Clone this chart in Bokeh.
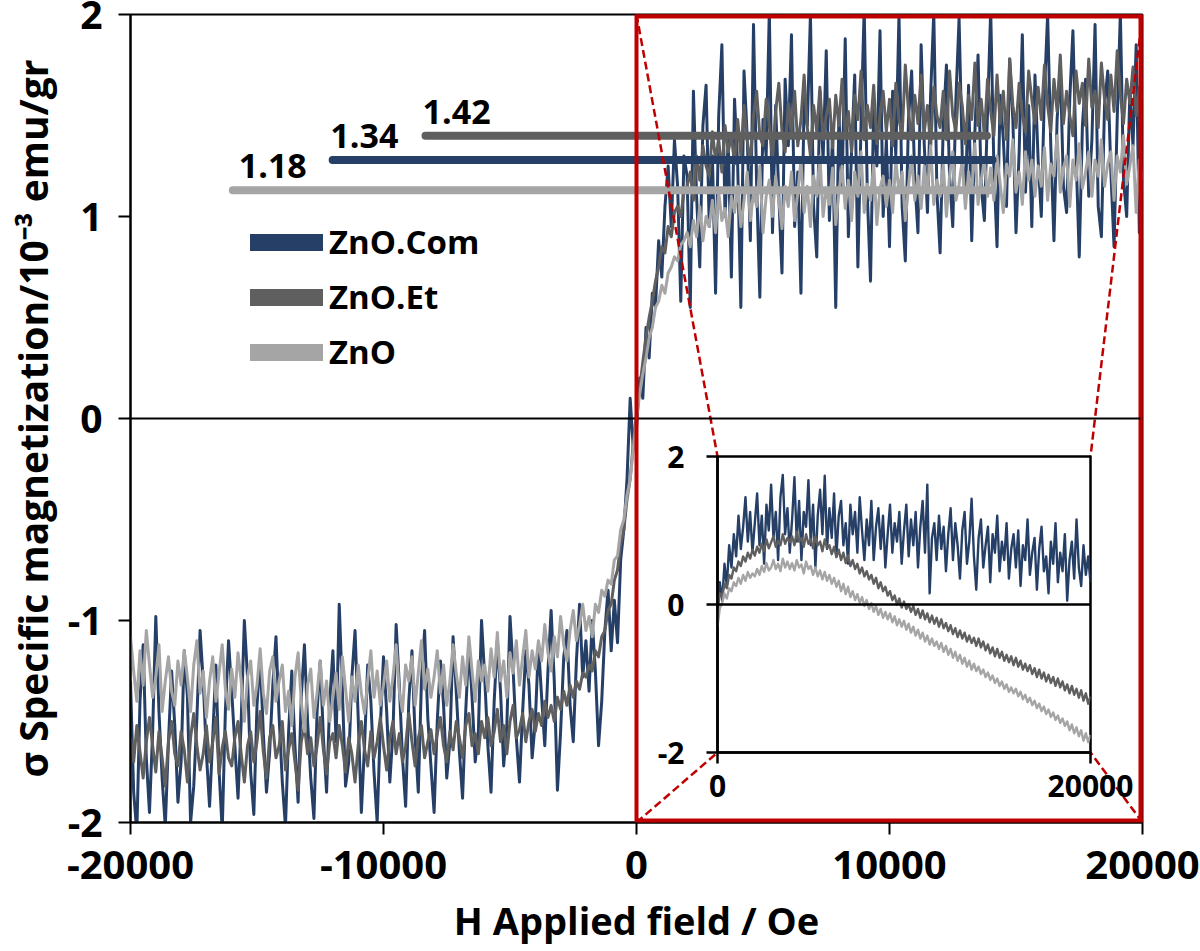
from bokeh.plotting import figure
from bokeh.models import Range1d, FixedTicker, Span, BoxAnnotation, Legend, LegendItem
from bokeh.embed import file_html
from bokeh.resources import INLINE
from bokeh.core.properties import value

# ---------------- data ----------------
H_MAIN = list(range(-20000, 20001, 125))          # applied field sweep, Oe

ZNO_COM = [
    -1.30, -1.85, -2.05, -1.40, -1.12, -1.68, -1.95, -1.55, -0.98, -1.45, -1.78, -2.02, -1.60, -1.25, -1.52, -1.90,
    -1.70, -1.15, -1.38, -2.00, -1.82, -1.48, -1.05, -1.30, -1.66, -1.92, -1.58, -1.22, -1.74, -2.04, -1.45, -1.10,
    -1.35, -1.62, -1.88, -1.50, -1.00, -1.28, -1.75, -1.96, -1.42, -1.18, -1.56, -1.85, -1.65, -1.32, -1.08, -1.48,
    -1.80, -2.02, -1.55, -1.25, -1.62, -1.90, -1.38, -1.12, -1.50, -1.78, -1.98, -1.45, -1.20, -1.58, -1.85, -1.40,
    -1.15, -1.60, -0.92, -1.35, -1.82, -1.70, -1.28, -1.05, -1.48, -1.95, -1.62, -1.22, -1.40, -1.75, -2.00, -1.52,
    -1.18, -1.45, -1.80, -1.55, -1.02, -1.32, -1.68, -1.92, -1.40, -1.15, -1.58, -1.85, -1.30, -1.05, -1.48, -1.72,
    -1.95, -1.50, -1.20, -1.42, -1.78, -1.60, -1.08, -1.35, -1.65, -1.88, -1.45, -1.12, -1.38, -1.70, -1.55, -1.00,
    -1.28, -1.62, -1.85, -1.40, -1.10, -1.35, -1.72, -1.52, -0.98, -1.25, -1.58, -1.80, -1.45, -1.15, -1.32, -1.68,
    -1.50, -1.12, -1.38, -1.62, -1.25, -0.95, -1.30, -1.84, -1.55, -1.18, -1.05, -1.42, -1.60, -1.20, -0.92, -1.28,
    -1.10, -1.35, -1.00, -1.25, -1.62, -1.40, -1.05, -0.85, -1.15, -0.90, -1.11, -0.70, -0.55, -0.30, 0.10, -0.15,
    -0.05, 0.20, 0.10, 0.45, 0.30, 0.62, 0.55, 0.88, 0.70, 1.05, 1.25, 0.95, 1.38, 1.15, 0.58, 1.30,
    1.20, 0.55, 1.62, 1.10, 0.75, 1.45, 1.65, 0.95, 1.30, 0.62, 1.50, 1.85, 1.00, 1.38, 0.70, 1.58,
    1.25, 0.55, 1.72, 1.40, 0.88, 1.95, 1.15, 0.60, 1.48, 1.30, 2.02, 0.92, 1.55, 1.10, 0.72, 1.68,
    1.35, 1.90, 0.95, 1.22, 0.62, 1.58, 1.45, 2.00, 1.05, 0.80, 1.62, 1.28, 1.82, 0.98, 1.40, 0.55,
    1.50, 1.15, 1.88, 0.90, 1.32, 1.70, 0.75, 1.45, 2.03, 1.10, 0.68, 1.55, 1.25, 1.92, 1.00, 1.38,
    0.85, 1.62, 1.30, 2.00, 1.05, 0.78, 1.48, 1.72, 1.18, 0.92, 1.85, 1.35, 1.02, 1.60, 2.01, 1.12,
    0.82, 1.45, 1.75, 1.20, 0.95, 1.58, 1.98, 1.30, 1.08, 1.65, 0.88, 1.42, 1.80, 1.15, 0.98, 1.52,
    2.02, 1.25, 0.85, 1.60, 1.38, 1.05, 1.78, 1.48, 0.92, 1.32, 1.90, 1.12, 1.55, 0.95, 1.70, 1.28,
    1.00, 1.62, 2.00, 1.35, 0.88, 1.48, 1.75, 1.15, 1.02, 1.58, 1.92, 1.30, 0.80, 1.45, 1.68, 1.10,
    1.38, 1.95, 1.05, 0.90, 1.55, 1.72, 1.22, 0.85, 1.48, 2.01, 1.18, 1.00, 1.62, 1.35, 1.85, 0.92,
    1.25,
]

ZNO_ET = [
    -1.58, -1.70, -1.52, -1.65, -1.78, -1.60, -1.48, -1.62, -1.75, -1.55, -1.68, -1.82, -1.60, -1.50, -1.66, -1.72,
    -1.55, -1.64, -1.80, -1.58, -1.46, -1.62, -1.74, -1.66, -1.52, -1.70, -1.60, -1.48, -1.76, -1.63, -1.55, -1.68,
    -1.72, -1.58, -1.50, -1.66, -1.80, -1.62, -1.55, -1.70, -1.60, -1.45, -1.65, -1.78, -1.58, -1.52, -1.68, -1.62,
    -1.50, -1.74, -1.64, -1.56, -1.70, -1.84, -1.60, -1.52, -1.66, -1.58, -1.72, -1.62, -1.48, -1.64, -1.76, -1.60,
    -1.56, -1.68, -1.52, -1.62, -1.75, -1.58, -1.66, -1.80, -1.62, -1.50, -1.64, -1.72, -1.55, -1.68, -1.60, -1.48,
    -1.62, -1.74, -1.58, -1.50, -1.66, -1.56, -1.70, -1.62, -1.46, -1.60, -1.72, -1.58, -1.52, -1.68, -1.60, -1.54,
    -1.66, -1.56, -1.48, -1.62, -1.70, -1.55, -1.64, -1.50, -1.58, -1.68, -1.52, -1.46, -1.62, -1.56, -1.66, -1.50,
    -1.58, -1.48, -1.62, -1.55, -1.44, -1.60, -1.52, -1.66, -1.50, -1.42, -1.58, -1.54, -1.46, -1.60, -1.50, -1.44,
    -1.55, -1.46, -1.52, -1.40, -1.48, -1.42, -1.50, -1.38, -1.44, -1.35, -1.42, -1.32, -1.38, -1.30, -1.34, -1.26,
    -1.28, -1.22, -1.25, -1.15, -1.18, -1.08, -1.05, -0.95, -0.92, -0.80, -0.75, -0.62, -0.55, -0.40, -0.30, -0.12,
    0.02, 0.15, 0.28, 0.40, 0.50, 0.58, 0.68, 0.75, 0.85, 0.82, 0.95, 0.90, 1.02, 1.05, 1.00, 1.12,
    1.15, 1.22, 1.08, 1.30, 1.18, 1.35, 1.25, 1.20, 1.42, 1.28, 1.38, 1.22, 1.45, 1.32, 1.40, 1.26,
    1.48, 1.30, 1.55, 1.38, 1.26, 1.50, 1.62, 1.40, 1.35, 1.58, 1.45, 1.28, 1.52, 1.66, 1.42, 1.32,
    1.56, 1.40, 1.62, 1.35, 1.48, 1.70, 1.44, 1.30, 1.55, 1.42, 1.64, 1.38, 1.50, 1.58, 1.34, 1.60,
    1.45, 1.68, 1.40, 1.52, 1.32, 1.60, 1.48, 1.72, 1.38, 1.55, 1.44, 1.65, 1.36, 1.50, 1.62, 1.42,
    1.58, 1.35, 1.66, 1.48, 1.40, 1.75, 1.52, 1.38, 1.60, 1.46, 1.70, 1.42, 1.55, 1.34, 1.64, 1.50,
    1.44, 1.62, 1.38, 1.72, 1.50, 1.42, 1.66, 1.55, 1.36, 1.60, 1.48, 1.76, 1.45, 1.58, 1.40, 1.68,
    1.52, 1.40, 1.70, 1.46, 1.62, 1.38, 1.78, 1.55, 1.44, 1.66, 1.50, 1.42, 1.72, 1.58, 1.46, 1.64,
    1.48, 1.75, 1.55, 1.42, 1.68, 1.52, 1.80, 1.46, 1.62, 1.50, 1.40, 1.72, 1.56, 1.66, 1.45, 1.78,
    1.54, 1.62, 1.44, 1.76, 1.58, 1.48, 1.70, 1.52, 1.82, 1.60, 1.46, 1.68, 1.56, 1.74, 1.50, 1.64,
    1.58,
]

ZNO = [
    -1.08, -1.25, -1.40, -1.15, -1.32, -1.05, -1.22, -1.38, -1.28, -1.12, -1.45, -1.30, -1.18, -1.35, -1.42, -1.20,
    -1.32, -1.15, -1.28, -1.45, -1.22, -1.10, -1.36, -1.25, -1.48, -1.30, -1.18, -1.40, -1.26, -1.12, -1.34, -1.44,
    -1.24, -1.38, -1.16, -1.30, -1.50, -1.28, -1.20, -1.42, -1.32, -1.14, -1.36, -1.46, -1.25, -1.18, -1.40, -1.30,
    -1.22, -1.45, -1.35, -1.52, -1.28, -1.16, -1.40, -1.55, -1.32, -1.24, -1.48, -1.36, -1.20, -1.42, -1.30, -1.50,
    -1.38, -1.26, -1.44, -1.18, -1.34, -1.50, -1.28, -1.40, -1.22, -1.36, -1.46, -1.30, -1.15, -1.38, -1.25, -1.42,
    -1.32, -1.20, -1.40, -1.28, -1.12, -1.35, -1.45, -1.22, -1.30, -1.18, -1.42, -1.26, -1.10, -1.34, -1.24, -1.38,
    -1.28, -1.15, -1.36, -1.22, -1.42, -1.30, -1.12, -1.26, -1.38, -1.18, -1.32, -1.08, -1.25, -1.40, -1.20, -1.30,
    -1.22, -1.35, -1.14, -1.28, -1.06, -1.30, -1.20, -1.38, -1.16, -1.26, -1.10, -1.32, -1.18, -1.05, -1.28, -1.15,
    -1.24, -1.10, -1.20, -1.02, -1.16, -1.25, -1.08, -1.18, -0.98, -1.12, -1.20, -1.05, -0.95, -1.10, -1.02, -0.92,
    -1.05, -0.98, -1.08, -0.92, -0.96, -0.85, -0.88, -0.80, -0.82, -0.70, -0.68, -0.55, -0.50, -0.38, -0.30, -0.15,
    0.00, 0.12, 0.22, 0.30, 0.40, 0.45, 0.55, 0.58, 0.66, 0.62, 0.72, 0.75, 0.80, 0.78, 0.86, 0.88,
    0.92, 0.85, 0.98, 0.90, 1.05, 0.88, 1.00, 0.95, 1.08, 0.92, 1.12, 0.98, 1.04, 0.90, 1.10, 1.02,
    1.15, 0.95, 1.08, 1.22, 0.98, 1.12, 1.05, 1.25, 0.92, 1.10, 1.18, 1.00, 1.20, 1.08, 0.94, 1.15,
    1.05, 1.22, 0.98, 1.12, 1.28, 1.02, 1.15, 0.95, 1.20, 1.10, 1.30, 1.00, 1.14, 1.06, 1.24, 0.96,
    1.12, 1.25, 1.04, 1.18, 0.98, 1.22, 1.10, 1.32, 1.02, 1.16, 1.08, 1.26, 0.96, 1.14, 1.20, 1.05,
    1.18, 1.02, 1.28, 1.12, 1.22, 0.98, 1.15, 1.30, 1.08, 1.20, 1.04, 1.25, 1.12, 1.35, 1.06, 1.18,
    1.10, 1.26, 1.00, 1.20, 1.32, 1.08, 1.16, 1.28, 1.04, 1.22, 1.12, 1.36, 1.06, 1.18, 1.28, 1.10,
    1.24, 1.08, 1.30, 1.16, 1.02, 1.26, 1.20, 1.38, 1.12, 1.22, 1.06, 1.32, 1.18, 1.28, 1.10, 1.25,
    1.15, 1.34, 1.08, 1.26, 1.20, 1.40, 1.12, 1.24, 1.30, 1.05, 1.28, 1.18, 1.36, 1.14, 1.22, 1.32,
    1.10, 1.28, 1.20, 1.38, 1.15, 1.26, 1.32, 1.08, 1.30, 1.22, 1.40, 1.16, 1.25, 1.35, 1.02, 1.28,
    1.18,
]

H_INSET = list(range(0, 20001, 125))

ZNO_COM_INSET = [
    -0.20, 0.30, 0.05, 0.55, 0.25, 0.80, 0.50, 0.95, 0.65, 1.20, 0.75, 1.05, 1.45, 0.85, 1.25, 0.70,
    1.10, 1.50, 0.80, 1.20, 0.55, 1.35, 1.00, 1.62, 0.90, 1.25, 0.60, 1.45, 1.75, 0.95, 1.30, 0.70,
    1.15, 1.72, 0.85, 1.40, 0.60, 1.25, 1.05, 1.68, 0.80, 1.35, 0.50, 1.20, 1.55, 0.95, 1.74, 0.75,
    1.30, 0.90, 1.50, 0.65, 1.20, 1.40, 0.80, 1.10, 0.55, 1.35, 0.95, 1.25, 0.70, 1.45, 1.00, 0.60,
    1.15, 0.80, 1.40, 0.60, 1.05, 1.30, 0.75, 1.20, 0.50, 0.95, 1.35, 0.70, 1.10, 0.85, 1.25, 0.55,
    1.00, 1.35, 0.65, 1.15, 0.80, 1.25, 0.50, 1.05, 1.40, 0.70, 1.62, 0.15, 0.90, 1.10, 0.60, 1.20,
    0.75, 1.05, 0.45, 0.95, 1.30, 0.60, 1.10, 0.80, 0.35, 1.00, 1.25, 0.55, 0.85, 1.43, 0.65, 0.20,
    0.90, 1.15, 0.50, 0.80, 1.05, 0.30, 0.95, 0.70, 1.20, 0.45, 0.85, 0.60, 1.10, 0.35, 0.75, 0.95,
    0.50, 1.00, 0.25, 0.80, 0.60, 1.15, 0.40, 0.70, 0.90, 0.20, 0.75, 1.05, 0.45, 0.65, 0.15, 0.85,
    0.55, 1.10, 0.30, 0.70, 0.45, 0.95, 0.05, 0.60, 0.85, 0.35, 1.15, 0.50, 0.25, 0.80, 0.40, 0.65,
    0.30,
]

ZNO_ET_INSET = [
    0.00, 0.15, 0.10, 0.28, 0.22, 0.40, 0.35, 0.50, 0.45, 0.58, 0.52, 0.65, 0.58, 0.70, 0.62, 0.74,
    0.66, 0.78, 0.70, 0.82, 0.72, 0.88, 0.76, 0.84, 0.92, 0.78, 0.86, 0.80, 0.95, 0.82, 0.90, 0.84,
    0.92, 0.80, 0.98, 0.85, 0.90, 0.78, 0.95, 0.82, 0.88, 0.76, 0.92, 0.80, 0.85, 0.72, 0.88, 0.76,
    0.80, 0.68, 0.78, 0.64, 0.74, 0.60, 0.70, 0.56, 0.66, 0.52, 0.60, 0.48, 0.55, 0.42, 0.50, 0.38,
    0.45, 0.34, 0.40, 0.28, 0.36, 0.22, 0.30, 0.18, 0.24, 0.12, 0.18, 0.06, 0.12, 0.00, 0.08, -0.04,
    0.04, -0.06, 0.00, -0.10, -0.02, -0.14, -0.06, -0.18, -0.08, -0.20, -0.12, -0.24, -0.15, -0.26, -0.18, -0.30,
    -0.20, -0.32, -0.25, -0.36, -0.28, -0.40, -0.32, -0.44, -0.35, -0.46, -0.38, -0.50, -0.42, -0.52, -0.45, -0.56,
    -0.46, -0.58, -0.50, -0.62, -0.54, -0.66, -0.58, -0.70, -0.60, -0.72, -0.64, -0.76, -0.68, -0.78, -0.70, -0.82,
    -0.72, -0.84, -0.76, -0.88, -0.80, -0.90, -0.82, -0.94, -0.86, -0.98, -0.88, -1.00, -0.92, -1.04, -0.95, -1.06,
    -0.98, -1.10, -1.00, -1.12, -1.04, -1.16, -1.08, -1.20, -1.10, -1.22, -1.14, -1.26, -1.16, -1.30, -1.20, -1.34,
    -1.24,
]

ZNO_INSET = [
    -0.30, -0.05, 0.02, 0.15, 0.08, 0.22, 0.18, 0.30, 0.25, 0.36, 0.28, 0.40, 0.32, 0.44, 0.36, 0.42,
    0.38, 0.48, 0.40, 0.52, 0.44, 0.56, 0.46, 0.50, 0.60, 0.48, 0.55, 0.45, 0.62, 0.50, 0.58, 0.48,
    0.56, 0.46, 0.60, 0.50, 0.54, 0.42, 0.58, 0.48, 0.52, 0.40, 0.50, 0.38, 0.46, 0.34, 0.44, 0.32,
    0.40, 0.28, 0.36, 0.24, 0.32, 0.18, 0.28, 0.14, 0.24, 0.10, 0.18, 0.06, 0.14, 0.02, 0.10, -0.02,
    0.06, -0.06, 0.02, -0.10, -0.02, -0.14, -0.06, -0.18, -0.10, -0.20, -0.12, -0.24, -0.16, -0.28, -0.20, -0.30,
    -0.22, -0.34, -0.26, -0.38, -0.30, -0.42, -0.34, -0.46, -0.38, -0.50, -0.42, -0.54, -0.46, -0.56, -0.50, -0.60,
    -0.52, -0.64, -0.56, -0.68, -0.60, -0.72, -0.64, -0.76, -0.68, -0.80, -0.72, -0.84, -0.76, -0.88, -0.80, -0.90,
    -0.84, -0.94, -0.88, -0.98, -0.92, -1.02, -0.96, -1.06, -1.00, -1.10, -1.04, -1.14, -1.08, -1.18, -1.12, -1.20,
    -1.14, -1.24, -1.18, -1.28, -1.22, -1.32, -1.26, -1.36, -1.30, -1.40, -1.34, -1.44, -1.38, -1.48, -1.42, -1.52,
    -1.46, -1.56, -1.50, -1.60, -1.54, -1.64, -1.58, -1.70, -1.62, -1.74, -1.66, -1.78, -1.70, -1.84, -1.74, -1.86,
    -1.76,
]

SERIES_NAMES = ["ZnO.Com", "ZnO.Et", "ZnO"]

# saturation markers (ZnO.Et, ZnO.Com, ZnO)
SAT_LABELS = ["1.42", "1.34", "1.18"]
SAT_LINE_Y = [1.40, 1.28, 1.13]
SAT_LINE_X0 = [-8340, -12010, -15955]
SAT_LINE_X1 = [13850, 14070, 14000]
SAT_LABEL_X = [-8455, -12100, -15720]

X_TICKS = [-20000, -10000, 0, 10000, 20000]
X_TICK_LABELS = ["-20000", "-10000", "0", "10000", "20000"]
Y_TICKS = [-2, -1, 0, 1, 2]
Y_TICK_LABELS = ["-2", "-1", "0", "1", "2"]
INSET_X_TICKS = [0, 20000]
INSET_X_TICK_LABELS = ["0", "20000"]
INSET_Y_TICKS = [-2, 0, 2]
INSET_Y_TICK_LABELS = ["-2", "0", "2"]

X_RANGE = (-20000, 20000)
Y_RANGE = (-2, 2)
ZOOM_X = (0, 20000)          # region shown enlarged in the inset

for arr, n in ((ZNO_COM, 321), (ZNO_ET, 321), (ZNO, 321),
               (ZNO_COM_INSET, 161), (ZNO_ET_INSET, 161), (ZNO_INSET, 161)):
    assert len(arr) == n, (len(arr), n)

# ---------------- style ----------------
BLUE = "#263F66"
DGRAY = "#5F5F5F"
LGRAY = "#A5A5A5"
RED = "#C00000"
FONT = "Open Sans"
COLORS = {"ZnO.Com": BLUE, "ZnO.Et": DGRAY, "ZnO": LGRAY}
SAT_COLORS = [DGRAY, BLUE, LGRAY]

# layout (page pixels; both figures positioned absolutely)
W, H = 1200, 951
ML, MR, MT, MB = 130, 58, 14, 129
FW, FH = W - ML - MR, H - MT - MB
INSET_FRAME = (717, 456, 1090, 752)   # left, top, right, bottom of inset plot area
IL, IR, IT, IB = 85, 60, 25, 70
IFW, IFH = INSET_FRAME[2] - INSET_FRAME[0], INSET_FRAME[3] - INSET_FRAME[1]


def style_axes(fig, tick_font, tick_out, lw):
    for ax in (fig.xaxis[0], fig.yaxis[0]):
        ax.axis_line_color = "black"
        ax.axis_line_width = lw
        ax.major_tick_line_color = "black"
        ax.major_tick_line_width = lw
        ax.major_tick_out = tick_out
        ax.major_tick_in = 0
        ax.minor_tick_line_color = None
        ax.major_label_text_font = FONT
        ax.major_label_text_font_style = "bold"
        ax.major_label_text_font_size = tick_font
        ax.major_label_text_color = "black"
    fig.grid.visible = False


# ---------------- main figure ----------------
p = figure(width=W, height=H, x_range=Range1d(*X_RANGE), y_range=Range1d(*Y_RANGE),
           output_backend="svg", toolbar_location=None,
           min_border_left=ML, min_border_right=MR, min_border_top=MT, min_border_bottom=MB,
           styles={"position": "absolute", "left": "0px", "top": "0px"})
p.background_fill_color = "white"
p.border_fill_color = "white"
p.outline_line_color = "black"
p.outline_line_width = 2
style_axes(p, "40px", 12, 2)
p.yaxis.major_label_text_font_size = "39px"
p.xaxis.ticker = FixedTicker(ticks=X_TICKS)
p.yaxis.ticker = FixedTicker(ticks=Y_TICKS)
p.xaxis.major_label_overrides = dict(zip(X_TICKS, X_TICK_LABELS))
p.yaxis.major_label_overrides = dict(zip(Y_TICKS, Y_TICK_LABELS))
p.xaxis.major_label_standoff = 16
p.yaxis.major_label_standoff = 16
p.xaxis.axis_label = "H Applied field / Oe"
p.yaxis.axis_label = "σ Specific magnetization/10⁻³ emu/gr"
for ax in (p.xaxis[0], p.yaxis[0]):
    ax.axis_label_text_font = FONT
    ax.axis_label_text_font_style = "bold"
    ax.axis_label_text_color = "black"
p.xaxis.axis_label_text_font_size = "38px"
p.yaxis.axis_label_text_font_size = "39px"
p.xaxis.axis_label_standoff = 12
p.yaxis.axis_label_standoff = 6

p.add_layout(Span(location=0, dimension="width", line_color="black", line_width=2))

main_series = {"ZnO.Com": ZNO_COM, "ZnO.Et": ZNO_ET, "ZnO": ZNO}
for name in SERIES_NAMES:
    p.line(H_MAIN, main_series[name], line_color=COLORS[name], line_width=3.0,
           line_join="round")

p.segment(x0=SAT_LINE_X0, y0=SAT_LINE_Y, x1=SAT_LINE_X1, y1=SAT_LINE_Y,
          line_color=SAT_COLORS, line_width=8, line_cap="round")
p.text(x=SAT_LABEL_X, y=SAT_LINE_Y, text=SAT_LABELS, text_font=value(FONT),
       text_font_style="bold", text_font_size="34px", text_color="black",
       text_baseline="alphabetic", text_align="left", y_offset=-24)

# legend with thick proxy lines (no data of their own)
NAN = float("nan")
items = []
for name in SERIES_NAMES:
    r = p.line(x=[NAN, NAN], y=[NAN, NAN], line_color=COLORS[name], line_width=17,
               line_cap="round")
    items.append(LegendItem(label=name, renderers=[r]))
legend = Legend(items=items, location=(120, 448), orientation="vertical",
                glyph_width=73, glyph_height=40, label_height=40, spacing=10,
                label_standoff=6, padding=0, margin=0,
                border_line_color=None, background_fill_alpha=0,
                label_text_font=FONT, label_text_font_style="bold",
                label_text_font_size="33px", label_text_color="black")
p.add_layout(legend)

# red zoom box: outline, with the edges lying on the frame drawn twice as wide
# because the frame clips half of them
p.add_layout(BoxAnnotation(left=ZOOM_X[0], right=ZOOM_X[1], bottom=Y_RANGE[0], top=Y_RANGE[1],
                           fill_color=None, fill_alpha=0, line_color=RED, line_alpha=1.0,
                           line_width=4))
p.segment(x0=[ZOOM_X[0], ZOOM_X[0], ZOOM_X[1]], y0=[Y_RANGE[1], Y_RANGE[0], Y_RANGE[0]],
          x1=[ZOOM_X[1], ZOOM_X[1], ZOOM_X[1]], y1=[Y_RANGE[1], Y_RANGE[0], Y_RANGE[1]],
          line_color=RED, line_width=8)

# dashed connectors from the red box to the inset frame corners
def to_data_x(px):
    return X_RANGE[0] + (px - ML) / FW * (X_RANGE[1] - X_RANGE[0])

def to_data_y(py):
    return Y_RANGE[1] - (py - MT) / FH * (Y_RANGE[1] - Y_RANGE[0])

in_left, in_right = to_data_x(INSET_FRAME[0]), to_data_x(INSET_FRAME[2])
in_top, in_bottom = to_data_y(INSET_FRAME[1]), to_data_y(INSET_FRAME[3])
p.segment(x0=[ZOOM_X[0], ZOOM_X[1], ZOOM_X[0], ZOOM_X[1]],
          y0=[Y_RANGE[1], Y_RANGE[1], Y_RANGE[0], Y_RANGE[0]],
          x1=[in_left, in_right, in_left, in_right],
          y1=[in_top, in_top, in_bottom, in_bottom],
          line_color=RED, line_width=2.5, line_dash="8 4")

# ---------------- inset figure ----------------
q = figure(width=IL + IFW + IR, height=IT + IFH + IB,
           x_range=Range1d(*ZOOM_X), y_range=Range1d(*Y_RANGE),
           output_backend="svg", toolbar_location=None,
           min_border_left=IL, min_border_right=IR, min_border_top=IT, min_border_bottom=IB,
           styles={"position": "absolute",
                   "left": f"{INSET_FRAME[0] - IL}px", "top": f"{INSET_FRAME[1] - IT}px"})
q.background_fill_color = None
q.border_fill_color = None
q.outline_line_color = "black"
q.outline_line_width = 2.5
style_axes(q, "30px", 11, 2.5)
q.xaxis.ticker = FixedTicker(ticks=INSET_X_TICKS)
q.yaxis.ticker = FixedTicker(ticks=INSET_Y_TICKS)
q.xaxis.major_label_overrides = dict(zip(INSET_X_TICKS, INSET_X_TICK_LABELS))
q.yaxis.major_label_overrides = dict(zip(INSET_Y_TICKS, INSET_Y_TICK_LABELS))
q.xaxis.major_label_standoff = 11
q.yaxis.major_label_standoff = 22
q.add_layout(Span(location=0, dimension="width", line_color="black", line_width=2.5))
inset_series = {"ZnO.Com": ZNO_COM_INSET, "ZnO.Et": ZNO_ET_INSET, "ZnO": ZNO_INSET}
for name in SERIES_NAMES:
    q.line(H_INSET, inset_series[name], line_color=COLORS[name], line_width=2.4,
           line_join="round")

open("out.html", "w").write(file_html([p, q], INLINE))
